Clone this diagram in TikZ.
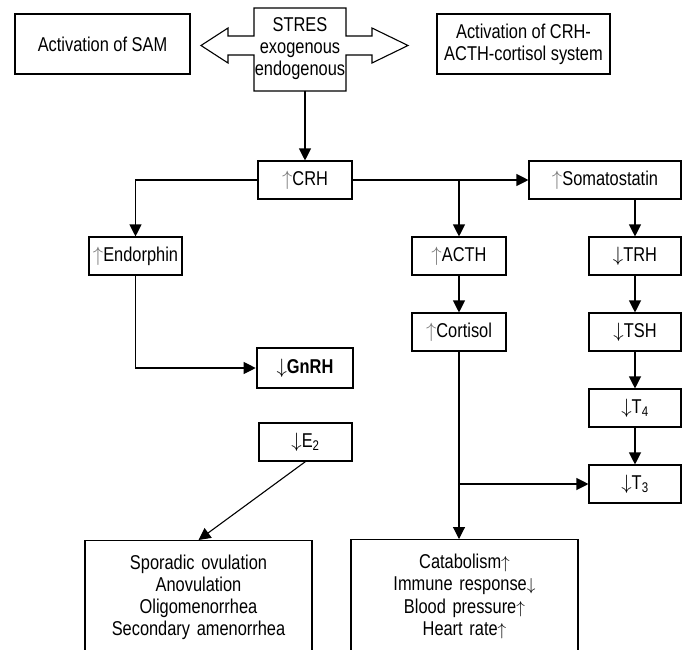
\documentclass[tikz,border=0pt]{standalone}
\usepackage{fontspec}
\setmainfont[FakeStretch=0.82]{Liberation Sans}
\usetikzlibrary{arrows.meta}

\definecolor{arrowgray}{gray}{0.45}
\newcommand{\incr}{{\color{arrowgray}$\uparrow$}}
\newcommand{\decr}{$\downarrow$}
\newcommand{\hi}{{\fontsize{18}{18}\selectfont$\uparrow$}}
\newcommand{\lo}{{\fontsize{18}{18}\selectfont$\downarrow$}}

\begin{document}
\begin{tikzpicture}[x=1pt, y=-1pt, line width=1.1pt,
  font=\fontsize{20}{22}\selectfont,
  box/.style={draw, inner sep=0pt, minimum height=38, align=center},
  arrow/.style={-{Triangle[length=12pt,width=12pt]}}]

\useasboundingbox (0,0) rectangle (683,649);
\clip (0,0) rectangle (683,649);

\node[box, minimum width=175, minimum height=60] (sam) at (102.5,44) {Activation of SAM};
\node[box, minimum width=173, minimum height=60] (crhsys) at (523.5,44) {Activation of CRH-\\ACTH-cortisol system};
\node[inner sep=0pt, minimum width=92, minimum height=83, align=center] (stres) at (300,48.5) {STRES\\exogenous\\endogenous};
\draw (254,8) -- (346,8) -- (346,36) -- (372,36) -- (372,28) -- (408,45.5) -- (372,63) -- (372,55) -- (346,55) -- (346,91) -- (254,91) -- (254,55) -- (228,55) -- (228,63) -- (201,45.5) -- (228,28) -- (228,36) -- (254,36) -- cycle;

\node[box, minimum width=94] (crh) at (305,180) {\incr CRH};
\node[box, minimum width=93] (endo) at (135.5,256) {\incr Endorphin};
\node[box, minimum width=94] (acth) at (459,256) {\incr ACTH};
\node[box, minimum width=94] (cort) at (459,332) {\incr Cortisol};
\node[box, minimum width=152] (soma) at (605,180) {\incr Somatostatin};
\node[box, minimum width=92] (trh) at (635,256) {\decr TRH};
\node[box, minimum width=92] (tsh) at (635,332) {\decr TSH};
\node[box, minimum width=92] (tfour) at (635,408) {\decr T\textsubscript{4}};
\node[box, minimum width=92] (tthree) at (635,484) {\decr T\textsubscript{3}};
\node[box, minimum width=96, minimum height=40, line width=2.6pt, font=\fontsize{20}{22}\selectfont\bfseries] (gnrh) at (305,368) {\decr GnRH};
\node[box, minimum width=93] (etwo) at (305.5,442) {\decr E\textsubscript{2}};

\node[box, anchor=north, text width=200, inner xsep=13.5pt, inner ysep=14pt, text depth=140pt] (ovul) at (198.5,540) {Sporadic ovulation\\Anovulation\\Oligomenorrhea\\Secondary amenorrhea};
\node[box, anchor=north, text width=200, inner xsep=13.5pt, inner ysep=14pt, text depth=140pt, font=\fontsize{20}{22.5}\selectfont] (effect) at (464.5,539) {Catabolism\hi\\Immune response\lo\\Blood pressure\hi\\Heart rate\hi};

\draw[arrow] (crh.north |- stres.south) -- (crh.north);
\draw[arrow] (crh.west) -| (endo.north);
\draw[arrow] (crh.east) -- (soma.west);
\draw[arrow] (acth.north |- crh.east) -- (acth.north);
\draw[arrow] (acth) -- (cort);
\draw[arrow] (trh.north |- soma.south) -- (trh.north);
\draw[arrow] (trh) -- (tsh);
\draw[arrow] (tsh) -- (tfour);
\draw[arrow] (tfour) -- (tthree);
\draw[arrow] (endo.south) |- (gnrh.west);
\draw[arrow] (etwo.south) -- (ovul.north);
\draw[arrow] (cort.south) -- (cort.south |- effect.north);
\draw[arrow] (cort.south |- tthree.west) -- (tthree.west);

\end{tikzpicture}
\end{document}
